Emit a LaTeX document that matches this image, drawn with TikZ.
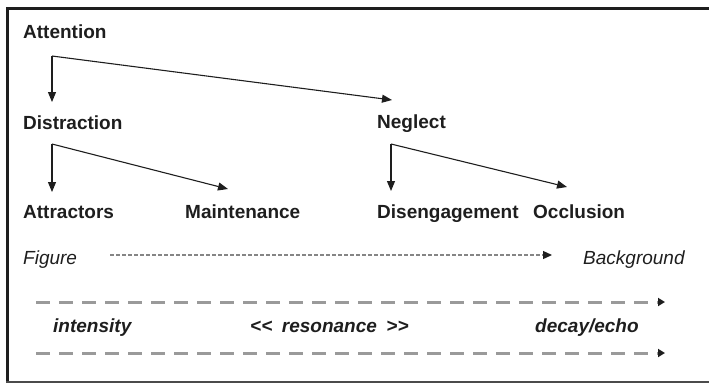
\documentclass[tikz,border=0pt]{standalone}
\usepackage{fontspec}
\setmainfont[Ligatures=NoCommon]{Liberation Sans}
\usetikzlibrary{arrows.meta}
\definecolor{ink}{HTML}{1E1E1E}
\definecolor{dashgray}{HTML}{9A9A9A}
\definecolor{dotgray}{HTML}{858585}
\begin{document}
\begin{tikzpicture}[x=1pt,y=-1pt,
  lbl/.style={anchor=base west,inner sep=0pt,text=ink,font=\fontsize{19}{22}\selectfont\bfseries},
  ilbl/.style={anchor=base west,inner sep=0pt,text=ink,font=\fontsize{19}{22}\selectfont\itshape},
  bilbl/.style={anchor=base west,inner sep=0pt,text=ink,font=\fontsize{19}{22}\selectfont\bfseries\itshape},
  treearrow/.style={draw=ink,line width=1.1pt,-{Triangle[length=10pt,width=8pt]}},
  dotarrow/.style={draw=dotgray,line width=1.3pt,dash pattern=on 3.5pt off 2.5pt,-{Triangle[length=9pt,width=8pt,color=ink]}},
  grayarrow/.style={draw=dashgray,line width=3pt,dash pattern=on 14pt off 9pt,-{Triangle[length=7pt,width=8pt,color=ink]}},
  frame/.style={draw=ink,line width=3pt}]
\useasboundingbox (0,0) rectangle (709,384);
% frame
\draw[frame] (709,8.5) -- (7.5,8.5) -- (7.5,382);
\draw[draw=ink!80,line width=2pt] (6,382) -- (709,382);
% labels
\node[lbl] (att) at (23,38) {Attention};
\node[lbl] (dis) at (23,129) {Distraction};
\node[lbl] (neg) at (377,128) {Neglect};
\node[lbl] (attr) at (23,218) {Attractors};
\node[lbl] (main) at (185,218) {Maintenance};
\node[lbl] (dise) at (377,218) {Disengagement};
\node[lbl] (occ) at (533,218) {Occlusion};
\node[ilbl] (fig) at (23,264) {Figure};
\node[ilbl] (bg) at (583,264) {Background};
\node[bilbl] (int) at (53,332) {intensity};
\node[bilbl] (res) at (250,332) {{<}{<}\hspace{0.5em}resonance\hspace{0.5em}{>}{>}};
\node[bilbl] (dec) at (535,332) {decay/echo};
% tree connectors
\coordinate (attS) at (52,56);
\coordinate (attT1) at (52,102);
\coordinate (attT2) at (392,100);
\draw[treearrow] (attS) -- (attT1);
\draw[treearrow] (attS) -- (attT2);
\coordinate (disS) at (52,144);
\coordinate (disT1) at (52,192);
\coordinate (disT2) at (228,189);
\draw[treearrow] (disS) -- (disT1);
\draw[treearrow] (disS) -- (disT2);
\coordinate (negS) at (391,144);
\coordinate (negT1) at (391,191);
\coordinate (negT2) at (567,187);
\draw[treearrow] (negS) -- (negT1);
\draw[treearrow] (negS) -- (negT2);
% figure/background
\coordinate (figS) at (110,255);
\coordinate (figT) at (552,255);
\draw[dotarrow] (figS) -- (figT);
% gray dashed arrows
\coordinate (d1S) at (36,302);
\coordinate (d1T) at (665,302);
\coordinate (d2S) at (36,353);
\coordinate (d2T) at (665,353);
\draw[grayarrow] (d1S) -- (d1T);
\draw[grayarrow] (d2S) -- (d2T);
\end{tikzpicture}
\end{document}
